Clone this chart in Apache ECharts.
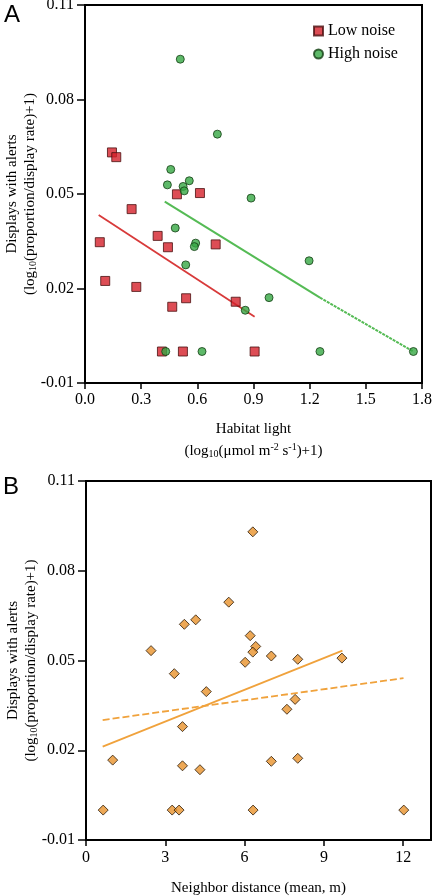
<!DOCTYPE html>
<html><head><meta charset="utf-8">
<script src="https://cdn.jsdelivr.net/npm/echarts@6/dist/echarts.min.js"></script>
<style>html,body{margin:0;padding:0;background:#fff}#c{width:432px;height:896px}</style>
</head><body><div id="c"></div>
<script>
// Panel A: habitat light vs displays with alerts
const lowNoiseX = [0.144,0.167,0.249,0.491,0.614,0.079,0.388,0.443,0.698,0.108,0.274,0.540,0.466,0.805,0.411,0.523,0.906];
const lowNoiseY = [0.0632,0.0617,0.0452,0.0499,0.0503,0.0347,0.0367,0.0331,0.0340,0.0224,0.0205,0.0169,0.0142,0.0158,0.0,0.0,0.0];
const highNoiseX = [0.509,0.707,0.458,0.440,0.524,0.530,0.557,0.887,0.482,0.591,0.584,0.538,1.197,0.983,0.856,0.431,0.625,1.255,1.754];
const highNoiseY = [0.0928,0.0690,0.0578,0.0529,0.0524,0.0510,0.0542,0.0487,0.0392,0.0344,0.0333,0.0275,0.0288,0.0171,0.0131,0.0,0.0,0.0,0.0];
const lowFitX = [0.073,0.906];
const lowFitY = [0.0433,0.0110];
const highFitSolidX = [0.426,1.255];
const highFitSolidY = [0.0476,0.0171];
const highFitDashX = [1.255,1.754];
const highFitDashY = [0.0171,0.0];
// Panel B: neighbor distance vs displays with alerts
const distX = [6.31,5.40,3.72,4.15,6.21,6.42,6.31,7.01,8.01,9.68,2.46,6.02,3.34,4.55,7.91,7.60,3.65,1.01,3.65,4.31,7.01,8.01,0.65,3.26,3.52,6.32,12.02];
const distY = [0.0930,0.0695,0.0621,0.0636,0.0583,0.0547,0.0528,0.0515,0.0504,0.0508,0.0533,0.0494,0.0456,0.0396,0.0370,0.0337,0.0279,0.0167,0.0148,0.0135,0.0163,0.0173,0.0,0.0,0.0,0.0,0.0];
const fitSolidX = [0.63,9.70];
const fitSolidY = [0.0212,0.0533];
const fitDashX = [0.63,12.01];
const fitDashY = [0.0301,0.0441];
// Tick labels
const yTicks = [-0.01,0.02,0.05,0.08,0.11];
const xTicksA = [0.0,0.3,0.6,0.9,1.2,1.5,1.8];
const xTicksB = [0,3,6,9,12];

const zip = (xs, ys) => xs.map((x,i)=>[x,ys[i]]);
const SERIF = 'Liberation Serif';
const tickRich = {t:{fontFamily:SERIF,fontSize:16,color:'#000'}};

function yAxis(gi){
  return {type:'value',gridIndex:gi,min:-0.01,max:0.11,
    name:'Displays with alerts\n(log{s|10}(proportion/display rate)+1)',
    nameLocation:'middle',nameRotate:90,nameGap:46,nameMoveOverlap:false,
    nameTextStyle:{fontFamily:SERIF,fontSize:15,color:'#000',lineHeight:18,
      rich:{s:{fontFamily:SERIF,fontSize:10,color:'#000',padding:[6,0,0,0]}}},
    axisLine:{show:true,onZero:false,lineStyle:{color:'#000',width:2}},
    axisTick:{show:true,inside:false,length:8,customValues:yTicks,lineStyle:{color:'#000',width:1.5}},
    axisLabel:{show:true,customValues:yTicks,formatter:v=>'{t|'+v.toFixed(2)+'}',margin:11,
      fontFamily:SERIF,fontSize:16,color:'#000',rich:tickRich},
    splitLine:{show:false}};
}

const option = {
  animation:false,
  backgroundColor:'#fff',
  textStyle:{fontFamily:SERIF,fontSize:15,color:'#000'},
  grid:[
    {left:85,top:5,width:337,height:378,show:true,borderColor:'#000',borderWidth:2,backgroundColor:'transparent',
      containLabel:false,outerBoundsMode:'none'},
    {left:86,top:481,width:345,height:359,show:true,borderColor:'#000',borderWidth:2,backgroundColor:'transparent',
      containLabel:false,outerBoundsMode:'none'}
  ],
  xAxis:[
    {type:'value',gridIndex:0,min:0,max:1.8,interval:0.3,
      name:'Habitat light\n(log{s|10}(μmol m{p|-2} s{p|-1})+1)',nameLocation:'middle',nameGap:35,
      nameTextStyle:{fontFamily:SERIF,fontSize:15,color:'#000',lineHeight:22,
        rich:{s:{fontFamily:SERIF,fontSize:10,color:'#000',padding:[6,0,0,0]},
              p:{fontFamily:SERIF,fontSize:10,color:'#000',padding:[0,0,8,0]}}},
      axisLine:{show:true,onZero:false,lineStyle:{color:'#000',width:2}},
      axisTick:{show:true,length:6,lineStyle:{color:'#000',width:1.5}},
      axisLabel:{show:true,formatter:v=>'{t|'+v.toFixed(1)+'}',margin:9,fontFamily:SERIF,fontSize:16,color:'#000',rich:tickRich},
      splitLine:{show:false}},
    {type:'value',gridIndex:1,min:0,max:13.05,
      name:'Neighbor distance (mean, m)',nameLocation:'middle',nameGap:41,
      nameTextStyle:{fontFamily:SERIF,fontSize:15,color:'#000'},
      axisLine:{show:true,onZero:false,lineStyle:{color:'#000',width:2}},
      axisTick:{show:true,length:6,customValues:xTicksB,lineStyle:{color:'#000',width:1.5}},
      axisLabel:{show:true,customValues:xTicksB,formatter:v=>'{t|'+v+'}',margin:10,fontFamily:SERIF,fontSize:16,color:'#000',rich:tickRich},
      splitLine:{show:false}}
  ],
  yAxis:[yAxis(0),yAxis(1)],
  legend:{data:['Low noise','High noise'],orient:'vertical',left:308,top:18,itemGap:7,
    itemWidth:9,itemHeight:9,textStyle:{fontFamily:SERIF,fontSize:16,color:'#000'}},
  graphic:[
    {type:'text',left:4,top:3,style:{text:'A',font:'24px "Liberation Sans",Arial,sans-serif',fill:'#000'}},
    {type:'text',left:3,top:475,style:{text:'B',font:'24px "Liberation Sans",Arial,sans-serif',fill:'#000'}}
  ],
  series:[
    {name:'lowFit',type:'line',xAxisIndex:0,yAxisIndex:0,data:zip(lowFitX,lowFitY),showSymbol:false,
      lineStyle:{color:'#d83a3a',width:1.8},z:1},
    {name:'highFitSolid',type:'line',xAxisIndex:0,yAxisIndex:0,data:zip(highFitSolidX,highFitSolidY),showSymbol:false,
      lineStyle:{color:'#55bb55',width:2},z:1},
    {name:'highFitDash',type:'line',xAxisIndex:0,yAxisIndex:0,data:zip(highFitDashX,highFitDashY),showSymbol:false,
      lineStyle:{color:'#55bb55',width:2,type:[3,1]},z:1},
    {name:'Low noise',type:'scatter',xAxisIndex:0,yAxisIndex:0,data:zip(lowNoiseX,lowNoiseY),symbol:'rect',symbolSize:9,
      itemStyle:{color:'#d4202a',borderColor:'#4a1010',borderWidth:1},z:3},
    {name:'High noise',type:'scatter',xAxisIndex:0,yAxisIndex:0,data:zip(highNoiseX,highNoiseY),symbol:'circle',symbolSize:8,
      itemStyle:{color:'#36a844',borderColor:'#143f14',borderWidth:1},z:3},
    {name:'fitSolid',type:'line',xAxisIndex:1,yAxisIndex:1,data:zip(fitSolidX,fitSolidY),showSymbol:false,
      lineStyle:{color:'#f0a23c',width:1.8},z:1},
    {name:'fitDash',type:'line',xAxisIndex:1,yAxisIndex:1,data:zip(fitDashX,fitDashY),showSymbol:false,
      lineStyle:{color:'#f0a23c',width:1.8,type:[7,3]},z:1},
    {name:'distance',type:'scatter',xAxisIndex:1,yAxisIndex:1,data:zip(distX,distY),symbol:'diamond',symbolSize:10,
      itemStyle:{color:'#e8922c',borderColor:'#2a1a08',borderWidth:1},z:3}
  ]
};
const chart = echarts.init(document.getElementById('c'),null,{renderer:'canvas'});
chart.setOption(option);
</script></body></html>
